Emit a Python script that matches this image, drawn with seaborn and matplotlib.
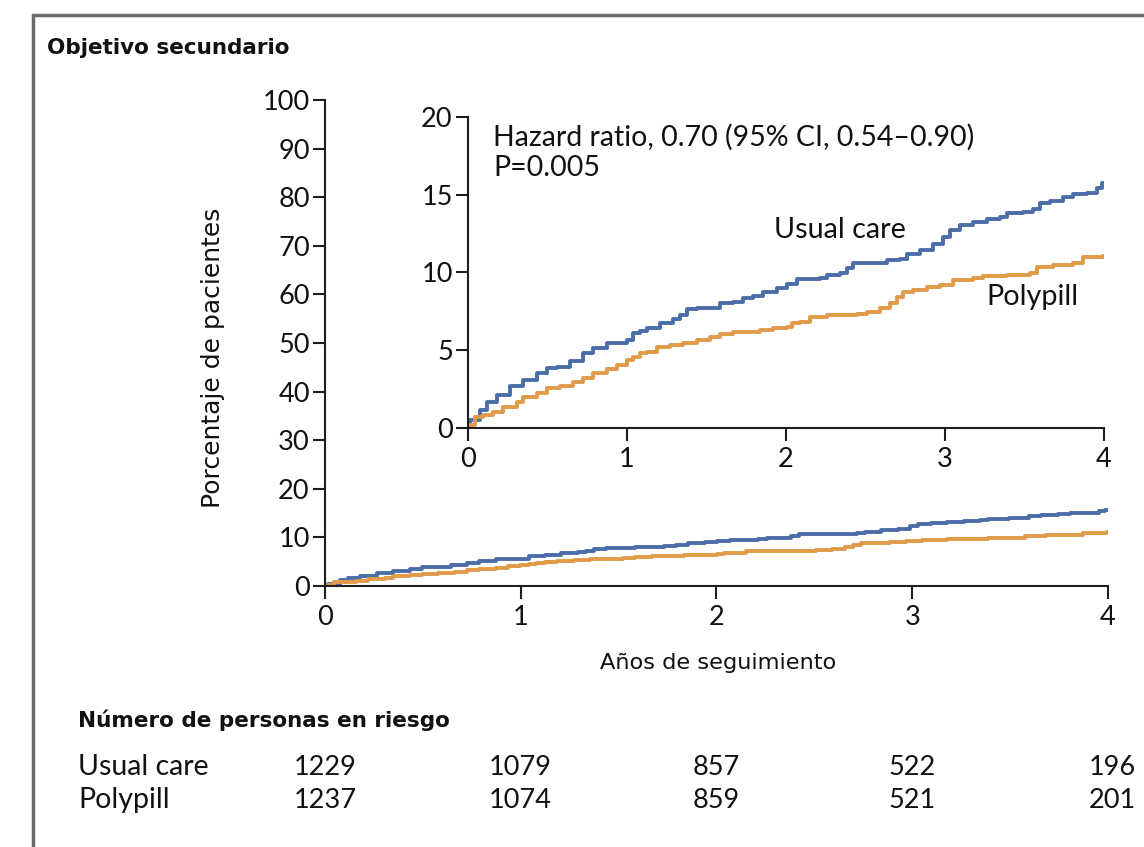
import matplotlib
matplotlib.use("Agg")
import matplotlib.pyplot as plt
import matplotlib.transforms as mtransforms
from matplotlib.lines import Line2D
from matplotlib import font_manager
import seaborn as sns
import pandas as pd

# ---------------- data ----------------
years_usual = [0, 0.013, 0.075, 0.118, 0.18, 0.264, 0.348, 0.432, 0.495, 0.558,
               0.642, 0.725, 0.788, 0.872, 0.935, 0.998, 1.04, 1.08, 1.124, 1.208,
               1.291, 1.333, 1.375, 1.438, 1.501, 1.585, 1.669, 1.732, 1.794, 1.857,
               1.942, 2.004, 2.067, 2.13, 2.214, 2.256, 2.34, 2.382, 2.423, 2.507,
               2.591, 2.633, 2.717, 2.759, 2.843, 2.927, 2.99, 3.03, 3.094, 3.178,
               3.262, 3.346, 3.388, 3.493, 3.555, 3.597, 3.66, 3.744, 3.807, 3.891,
               3.954, 3.985, 4.0]
pct_usual = [0, 0.51, 1.16, 1.69, 2.12, 2.7, 3.09, 3.56, 3.88, 3.94,
             4.33, 4.8, 5.12, 5.49, 5.49, 5.66, 6.09, 6.26, 6.41, 6.73,
             6.99, 7.27, 7.63, 7.74, 7.74, 8.02, 8.12, 8.34, 8.49, 8.77,
             8.98, 9.26, 9.56, 9.56, 9.63, 9.84, 9.95, 10.31, 10.63, 10.63,
             10.63, 10.8, 10.85, 11.17, 11.45, 11.83, 12.3, 12.73, 13.05, 13.27,
             13.42, 13.59, 13.85, 13.91, 14.06, 14.45, 14.62, 14.84, 15.05, 15.13,
             15.41, 15.74, 15.74]

years_poly = [0, 0.013, 0.044, 0.096, 0.159, 0.222, 0.306, 0.348, 0.432, 0.495,
              0.579, 0.662, 0.725, 0.788, 0.872, 0.935, 0.998, 1.04, 1.08, 1.124,
              1.187, 1.27, 1.354, 1.438, 1.522, 1.585, 1.669, 1.753, 1.836, 1.92,
              2.004, 2.036, 2.088, 2.15, 2.256, 2.34, 2.444, 2.507, 2.591, 2.654,
              2.696, 2.738, 2.8, 2.885, 2.969, 3.052, 3.094, 3.178, 3.241, 3.388,
              3.535, 3.576, 3.681, 3.807, 3.87, 3.996, 4.0]
pct_poly = [0, 0.19, 0.73, 0.84, 1.05, 1.37, 1.69, 2.01, 2.27, 2.55,
            2.7, 2.98, 3.2, 3.52, 3.77, 4.05, 4.37, 4.59, 4.8, 4.91,
            5.19, 5.34, 5.49, 5.66, 5.83, 6.05, 6.19, 6.19, 6.3, 6.41,
            6.51, 6.77, 6.84, 7.16, 7.27, 7.27, 7.31, 7.48, 7.7, 8.02,
            8.44, 8.77, 8.87, 9.09, 9.2, 9.52, 9.52, 9.63, 9.77, 9.84,
            9.95, 10.37, 10.48, 10.59, 10.98, 11.06, 11.06]

x_ticks = [0, 1, 2, 3, 4]
main_yticks = list(range(0, 101, 10))
inset_yticks = [0, 5, 10, 15, 20]
risk_groups = ["Usual care", "Polypill"]
risk_usual = [1229, 1079, 857, 522, 196]
risk_poly = [1237, 1074, 859, 521, 201]

# ---------------- style ----------------
sns.set_theme(style="ticks")
names = {f.name for f in font_manager.fontManager.ttflist}
NUM_FONT = "Liberation Sans Narrow" if "Liberation Sans Narrow" in names else "Lato"
COMIC = "DejaVu Sans"
plt.rcParams['font.family'] = [NUM_FONT, 'DejaVu Sans']

BLUE = "#4b6ea9"
ORANGE = "#e09a48"
SPINE = "#1e1e1e"
TXT = "#111111"

df = pd.concat([
    pd.DataFrame({"Años": years_usual, "Porcentaje": pct_usual, "Grupo": "Usual care"}),
    pd.DataFrame({"Años": years_poly, "Porcentaje": pct_poly, "Grupo": "Polypill"}),
], ignore_index=True)
palette = {"Usual care": BLUE, "Polypill": ORANGE}

fig = plt.figure(figsize=(11.44, 8.47), dpi=100)
fig.patch.set_facecolor("white")

ax = fig.add_axes([0.2841, 0.3081, 0.6844, 0.5738])   # main axes
axi = fig.add_axes([0.4091, 0.4947, 0.5559, 0.3672])  # inset axes

for a, ylim, yt in [(ax, (0, 100), main_yticks), (axi, (0, 20), inset_yticks)]:
    sns.lineplot(data=df, x="Años", y="Porcentaje", hue="Grupo", palette=palette,
                 drawstyle="steps-post", linewidth=2.8, ax=a, legend=False,
                 estimator=None, sort=False)
    a.set_xlim(0, 4)
    a.set_ylim(*ylim)
    a.set_xticks(x_ticks)
    a.set_yticks(yt)
    a.set_xticklabels([str(t) for t in x_ticks])
    a.set_yticklabels([str(t) for t in yt])
    a.set_facecolor("none")
    sns.despine(ax=a)
    for s in ["left", "bottom"]:
        a.spines[s].set_color(SPINE)
        a.spines[s].set_linewidth(1.5)
    a.tick_params(axis="both", direction="out", length=9, width=1.5, color=SPINE,
                  labelsize=19.5, labelcolor=TXT)
    a.tick_params(axis="y", pad=2)
    a.tick_params(axis="x", pad=5)
    a.set_xlabel("")
    a.set_ylabel("")

ax.set_xlabel("Años de seguimiento", family=COMIC, fontsize=16.2, color=TXT, va="center")
ax.xaxis.set_label_coords(0.502, -0.158)
ax.set_ylabel("Porcentaje de pacientes", family=COMIC, fontsize=18, color=TXT,
              va="center", ha="center")
ax.yaxis.set_label_coords(-0.143, 0.47)

# inset annotations
axi.text(0.16, 18.7, "Hazard ratio, 0.70 (95% CI, 0.54\u20130.90)", fontsize=20.5,
         va="center", ha="left", color=TXT)
axi.text(0.16, 16.75, "P=0.005", fontsize=20.5, va="center", ha="left", color=TXT)
axi.text(2.34, 12.75, "Usual care", fontsize=20.7, va="center", ha="center", color=TXT)
axi.text(3.55, 8.45, "Polypill", fontsize=20.7, va="center", ha="center", color=TXT)

# title
fig.text(47 / 1144, 1 - 48 / 847, "Objetivo secundario", family=COMIC, fontsize=15.5,
         fontweight="bold", va="center", ha="left", color=TXT)

# number at risk table
fig.text(78 / 1144, 1 - 720 / 847, "Número de personas en riesgo", family=COMIC,
         fontsize=15.5, fontweight="bold", va="center", ha="left", color=TXT)
trans = mtransforms.blended_transform_factory(ax.transData, fig.transFigure)
for label, vals, ypx in [(risk_groups[0], risk_usual, 767), (risk_groups[1], risk_poly, 800)]:
    yf = 1 - ypx / 847
    fig.text(78 / 1144, yf, label, fontsize=20.5, va="center", ha="left", color=TXT)
    for xt, v in zip(x_ticks, vals):
        ax.text(xt + (0.02 if xt == 4 else 0.0), yf, str(v), transform=trans, fontsize=19.5,
                va="center", ha="center", color=TXT, clip_on=False)

# outer frame (top and left edges)
fig.add_artist(Line2D([33 / 1144, 1.0], [1 - 15 / 847, 1 - 15 / 847],
                      transform=fig.transFigure, color="#6a6a6a", linewidth=2.5))
fig.add_artist(Line2D([33 / 1144, 33 / 1144], [1 - 15 / 847, 0.0],
                      transform=fig.transFigure, color="#6a6a6a", linewidth=2.5))

fig.savefig("out.png", dpi=100, facecolor="white")
